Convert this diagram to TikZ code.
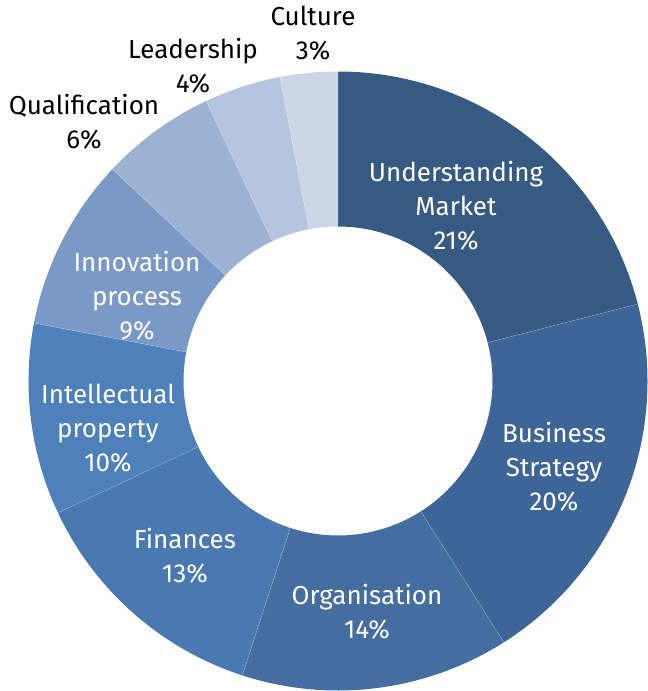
\documentclass[tikz,border=0pt]{standalone}
\usepackage{fontspec}
\setmainfont{Fira Sans}
\usetikzlibrary{calc}
\begin{document}
\begin{tikzpicture}[x=1pt,y=1pt,
  seg/.style={draw=white,line width=0.4pt,draw opacity=0.35},
  inlbl/.style={text=white,align=center,font=\fontsize{26}{34}\selectfont,inner sep=0pt},
  outlbl/.style={text=black,align=center,font=\fontsize{26}{34}\selectfont,inner sep=0pt}]
\useasboundingbox (0,0) rectangle (648,-691);
\definecolor{cA}{HTML}{365A82}
\definecolor{cB}{HTML}{3E6597}
\definecolor{cC}{HTML}{446EA0}
\definecolor{cD}{HTML}{4A78B0}
\definecolor{cE}{HTML}{4E80BC}
\definecolor{cF}{HTML}{7B99C6}
\definecolor{cG}{HTML}{9DB1D3}
\definecolor{cH}{HTML}{B5C4DF}
\definecolor{cI}{HTML}{CBD5E6}
\coordinate (c) at (338,-381);
\def\Ro{309.5}\def\Ri{154.5}
\foreach \a/\b/\col in {90/14.4/cA, 14.4/-57.6/cB, -57.6/-108/cC, -108/-154.8/cD, -154.8/-190.8/cE, -190.8/-223.2/cF, -223.2/-244.8/cG, -244.8/-259.2/cH, -259.2/-270/cI}{
  \fill[\col] ($(c)+(\a:\Ro)$) arc[start angle=\a,end angle=\b,radius=\Ro] -- ($(c)+(\b:\Ri)$) arc[start angle=\b,end angle=\a,radius=\Ri] -- cycle;
}
\foreach \a in {14.4,-57.6,-108,-154.8,-190.8,-223.2,-244.8,-259.2}{
  \draw[seg] ($(c)+(\a:\Ri)$) -- ($(c)+(\a:\Ro)$);
}
\node[inlbl] (um) at (456,-206) {Understanding\\Market\\21\%};
\node[inlbl] (bs) at (554,-467) {Business\\Strategy\\20\%};
\node[inlbl] (org) at (367,-612) {Organisation\\14\%};
\node[inlbl] (fin) at (185,-556) {Finances\\13\%};
\node[inlbl] (ip) at (108,-428) {Intellectual\\property\\10\%};
\node[inlbl] (inn) at (137,-296) {Innovation\\process\\9\%};
\node[outlbl] (qual) at (84,-122) {Qualification\\6\%};
\node[outlbl] (lead) at (193,-66) {Leadership\\4\%};
\node[outlbl] (cult) at (313,-33) {Culture\\3\%};
\end{tikzpicture}
\end{document}
